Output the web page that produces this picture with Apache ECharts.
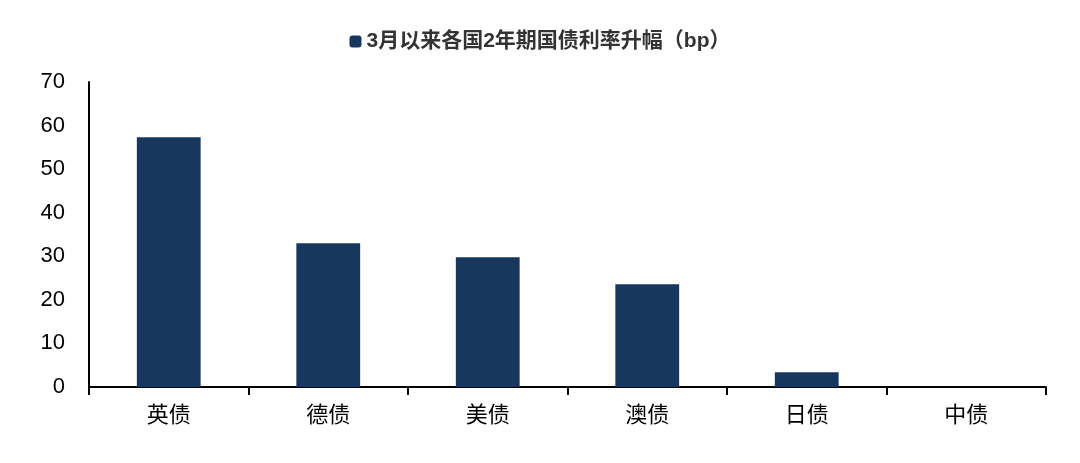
<!DOCTYPE html>
<html><head><meta charset="utf-8">
<script src="https://cdn.jsdelivr.net/npm/echarts@6/dist/echarts.min.js"></script>
<style>html,body{margin:0;padding:0;background:#fff}#main{width:1080px;height:463px}</style>
</head><body><div id="main"></div>
<script>
var categories = ['英债', '德债', '美债', '澳债', '日债', '中债'];
var values = [57.3, 33.0, 29.8, 23.6, 3.4, 0];
var seriesName = '3月以来各国2年期国债利率升幅（bp）';

var chart = echarts.init(document.getElementById('main'));
var option = {
    animation: false,
    textStyle: { fontFamily: 'Liberation Sans, Noto Sans CJK SC' },
    legend: {
        top: 26, left: 'center',
        itemWidth: 12, itemHeight: 12, itemGap: 6,
        data: [seriesName],
        textStyle: { color: '#333', fontSize: 21, fontWeight: 'bold', fontFamily: 'Liberation Sans, Noto Sans CJK SC' }
    },
    grid: { left: 89, right: 34, top: 82, bottom: 76 },
    xAxis: {
        type: 'category',
        data: categories,
        axisTick: { show: true, length: 8, lineStyle: { color: '#000', width: 2 } },
        axisLine: { lineStyle: { color: '#000', width: 2 } },
        axisLabel: { color: '#000', fontSize: 22, margin: 16, fontFamily: 'Noto Sans CJK SC' }
    },
    yAxis: {
        type: 'value', min: 0, max: 70, interval: 10,
        axisLine: { show: true, lineStyle: { color: '#000', width: 2 } },
        axisTick: { show: false },
        splitLine: { show: false },
        axisLabel: { color: '#000', fontSize: 22, margin: 24 }
    },
    series: [{
        name: seriesName,
        type: 'bar',
        barWidth: '40%',
        itemStyle: { color: '#17375e' },
        data: values
    }]
};
chart.setOption(option);
</script></body></html>
